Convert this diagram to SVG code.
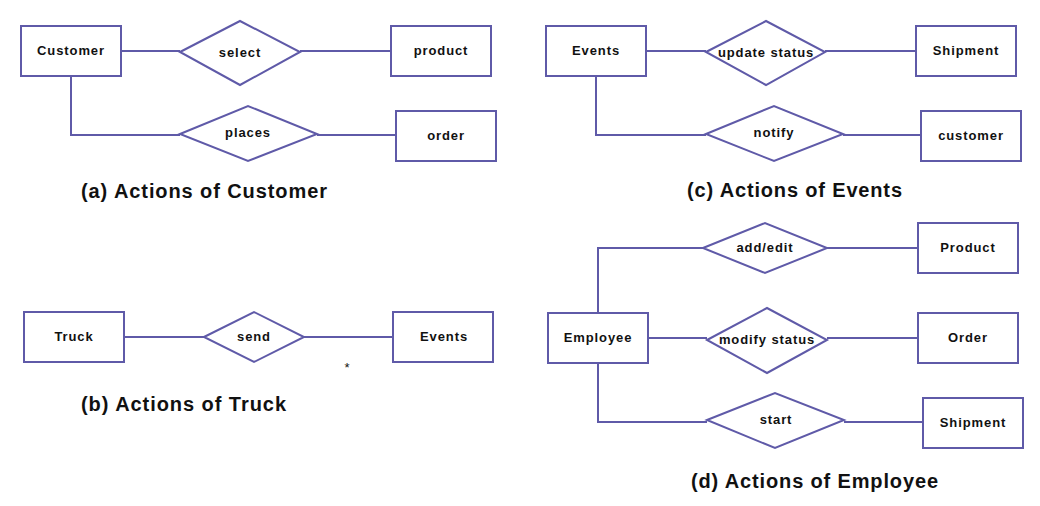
<svg xmlns="http://www.w3.org/2000/svg" width="1040" height="506" viewBox="0 0 1040 506">
<style>
.e{fill:#fff;stroke:#5f5aa8;stroke-width:2}
.c{fill:none;stroke:#5f5aa8;stroke-width:2}
.t{font-family:"Liberation Sans",Arial,sans-serif;font-weight:bold;font-size:13px;letter-spacing:0.9px;fill:#111;text-anchor:middle}
.cap{font-family:"Liberation Sans",Arial,sans-serif;font-weight:bold;font-size:20px;fill:#111}
</style>
<rect width="1040" height="506" fill="#fff"/>
<g id="connectors">
<path class="c" d="M121 51H180M300 51H391"/>
<path class="c" d="M71 76V135H180M317 135H396"/>
<path class="c" d="M646 51H706M825 51H916"/>
<path class="c" d="M596 76V135H706M843 135H921"/>
<path class="c" d="M124 337H204M304 337H393"/>
<path class="c" d="M598 313V248H703M827 248H918"/>
<path class="c" d="M648 338H707M827 338H918"/>
<path class="c" d="M598 363V422H707M844 422H923"/>
</g>
<g id="customer"><rect class="e" x="21" y="26" width="100" height="50"/><text class="t" x="71" y="55">Customer</text></g>
<g id="select"><polygon class="e" points="180,52 240,21 300,52 240,85"/><text class="t" x="240" y="57">select</text></g>
<g id="product"><rect class="e" x="391" y="26" width="100" height="50"/><text class="t" x="441" y="55">product</text></g>
<g id="places"><polygon class="e" points="180,134 248,106 317,134 248,161"/><text class="t" x="248" y="137">places</text></g>
<g id="order"><rect class="e" x="396" y="111" width="100" height="50"/><text class="t" x="446" y="140">order</text></g>
<text class="cap" x="81" y="198" textLength="246" lengthAdjust="spacing">(a) Actions of Customer</text>

<g id="events-c"><rect class="e" x="546" y="26" width="100" height="50"/><text class="t" x="596" y="55">Events</text></g>
<g id="update-status"><polygon class="e" points="706,52 766,21 825,52 766,85"/><text class="t" x="766" y="57">update status</text></g>
<g id="shipment-c"><rect class="e" x="916" y="26" width="100" height="50"/><text class="t" x="966" y="55">Shipment</text></g>
<g id="notify"><polygon class="e" points="706,134 774,106 843,134 774,161"/><text class="t" x="774" y="137">notify</text></g>
<g id="customer-c"><rect class="e" x="921" y="111" width="100" height="50"/><text class="t" x="971" y="140">customer</text></g>
<text class="cap" x="687" y="197" textLength="215" lengthAdjust="spacing">(c) Actions of Events</text>

<g id="truck"><rect class="e" x="24" y="312" width="100" height="50"/><text class="t" x="74" y="341">Truck</text></g>
<g id="send"><polygon class="e" points="204,337 254,312 304,337 254,362"/><text class="t" x="254" y="341">send</text></g>
<g id="events-b"><rect class="e" x="393" y="312" width="100" height="50"/><text class="t" x="444" y="341">Events</text></g>
<text x="347" y="372" font-family="Liberation Sans, Arial, sans-serif" font-size="13" fill="#111" text-anchor="middle">*</text>
<text class="cap" x="81" y="411" textLength="205" lengthAdjust="spacing">(b) Actions of Truck</text>

<g id="employee"><rect class="e" x="548" y="313" width="100" height="50"/><text class="t" x="598" y="342">Employee</text></g>
<g id="add-edit"><polygon class="e" points="703,248 765,223 827,248 765,273"/><text class="t" x="765" y="252">add/edit</text></g>
<g id="product-d"><rect class="e" x="918" y="223" width="100" height="50"/><text class="t" x="968" y="252">Product</text></g>
<g id="modify-status"><polygon class="e" points="707,340 767,308 827,340 767,373"/><text class="t" x="767" y="344">modify status</text></g>
<g id="order-d"><rect class="e" x="918" y="313" width="100" height="50"/><text class="t" x="968" y="342">Order</text></g>
<g id="start"><polygon class="e" points="707,420 775,393 844,420 775,448"/><text class="t" x="776" y="424">start</text></g>
<g id="shipment-d"><rect class="e" x="923" y="398" width="100" height="50"/><text class="t" x="973" y="427">Shipment</text></g>
<text class="cap" x="691" y="488" textLength="247" lengthAdjust="spacing">(d) Actions of Employee</text>
</svg>
